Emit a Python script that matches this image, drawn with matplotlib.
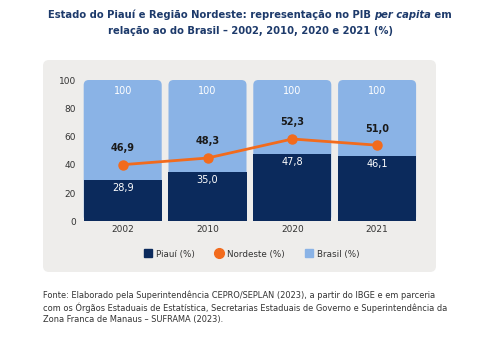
import matplotlib
matplotlib.use("Agg")
import matplotlib.pyplot as plt
from matplotlib.patches import FancyBboxPatch
from matplotlib.lines import Line2D

plt.rcParams['font.family'] = ['DejaVu Sans']

years = ["2002", "2010", "2020", "2021"]
piaui = [28.9, 35.0, 47.8, 46.1]
nordeste = [46.9, 48.3, 52.3, 51.0]
brasil = [100, 100, 100, 100]
y_ticks = [0, 20, 40, 60, 80, 100]

NAVY = "#0b2a5c"
LIGHT = "#8ab3e6"
ORANGE = "#f26b1d"
PANEL = "#eeedeb"
TITLE_C = "#1d3a6b"

W, H = 500, 342
fig = plt.figure(figsize=(W / 100, H / 100), dpi=100)


def fx(px):
    return px / W


def fy(py):
    return 1 - py / H


# grey panel behind the chart
panel = FancyBboxPatch((fx(43), fy(272)), fx(436) - fx(43), fy(60) - fy(272),
                       boxstyle="round,pad=0,rounding_size=0.012",
                       mutation_aspect=W / H, transform=fig.transFigure,
                       facecolor=PANEL, edgecolor="none", zorder=-5)
fig.patches.append(panel)

ax = fig.add_axes([fx(80.3), fy(221.3), fx(419.5) - fx(80.3), fy(80) - fy(221.3)])
ax.set_facecolor("none")
x = list(range(len(years)))
bw = 0.92

# Brasil bars with rounded corners
base = ax.bar(x, brasil, width=bw, color=LIGHT)
for p in base:
    p.set_visible(False)
    ax.add_patch(FancyBboxPatch((p.get_x(), p.get_y()), p.get_width(), p.get_height(),
                                boxstyle="round,pad=0,rounding_size=0.06",
                                mutation_aspect=60, facecolor=LIGHT,
                                edgecolor="none", zorder=1))
ax.bar(x, piaui, width=bw, color=NAVY, zorder=2)

for i in x:
    ax.text(i, brasil[i] - 7.5, f"{brasil[i]}", ha="center", va="center",
            color="white", fontsize=7, zorder=5)
    ax.text(i, piaui[i] - 5.5, f"{piaui[i]:.1f}".replace(".", ","), ha="center",
            va="center", color="white", fontsize=7, zorder=5)

ax.set_xlim(-0.5, 3.5)
ax.set_ylim(0, 100)
ax.set_yticks(y_ticks)
ax.set_xticks(x)
ax.set_xticklabels(years)
ax.tick_params(length=0, labelsize=6.5, colors="#333333", pad=3)
for s in ax.spines.values():
    s.set_visible(False)

# Nordeste on its own hidden scale
ax2 = ax.twinx()
ax2.set_ylim(35, 64.7)
ax2.plot(x, nordeste, color=ORANGE, lw=2, marker="o", ms=6.5, zorder=6)
for i in x:
    ax2.annotate(f"{nordeste[i]:.1f}".replace(".", ","), (i, nordeste[i]),
                 xytext=(0, 12), textcoords="offset points", ha="center",
                 va="center", fontsize=7, fontweight="bold", color="#1a1a1a")
ax2.axis("off")

handles = [
    Line2D([], [], ls="none", marker="s", ms=5.5, color=NAVY),
    Line2D([], [], ls="none", marker="o", ms=7, color=ORANGE),
    Line2D([], [], ls="none", marker="s", ms=5.5, color=LIGHT),
]
fig.legend(handles, ["Piauí (%)", "Nordeste (%)", "Brasil (%)"], loc="center",
           bbox_to_anchor=(fx(252), fy(254)), ncol=3, frameon=False, fontsize=6.3,
           handletextpad=0.5, columnspacing=2.4, handlelength=0.8,
           labelcolor="#333333")

# title: mixed bold / bold-italic first line
renderer = fig.canvas.get_renderer()
parts = [("Estado do Piauí e Região Nordeste: representação no PIB ", "normal"),
         ("per capita", "italic"), (" em", "normal")]
texts = []
for s, style in parts:
    t = fig.text(0, fy(15), s, fontsize=7.2, fontweight="bold", style=style,
                 color=TITLE_C, va="center", ha="left")
    texts.append(t)
widths = [t.get_window_extent(renderer).width for t in texts]
xpos = 250 - sum(widths) / 2
for t, w in zip(texts, widths):
    t.set_x(fx(xpos))
    xpos += w
fig.text(fx(250), fy(31), "relação ao do Brasil – 2002, 2010, 2020 e 2021 (%)",
         fontsize=7.2, fontweight="bold", color=TITLE_C, ha="center", va="center")

fonte = ("Fonte: Elaborado pela Superintendência CEPRO/SEPLAN (2023), a partir do IBGE e em parceria\n"
         "com os Órgãos Estaduais de Estatística, Secretarias Estaduais de Governo e Superintendência da\n"
         "Zona Franca de Manaus – SUFRAMA (2023).")
fig.text(fx(43), fy(290), fonte, fontsize=5.95, color="#333333", ha="left", va="top",
         linespacing=1.35)

fig.savefig("out.png", dpi=100)
